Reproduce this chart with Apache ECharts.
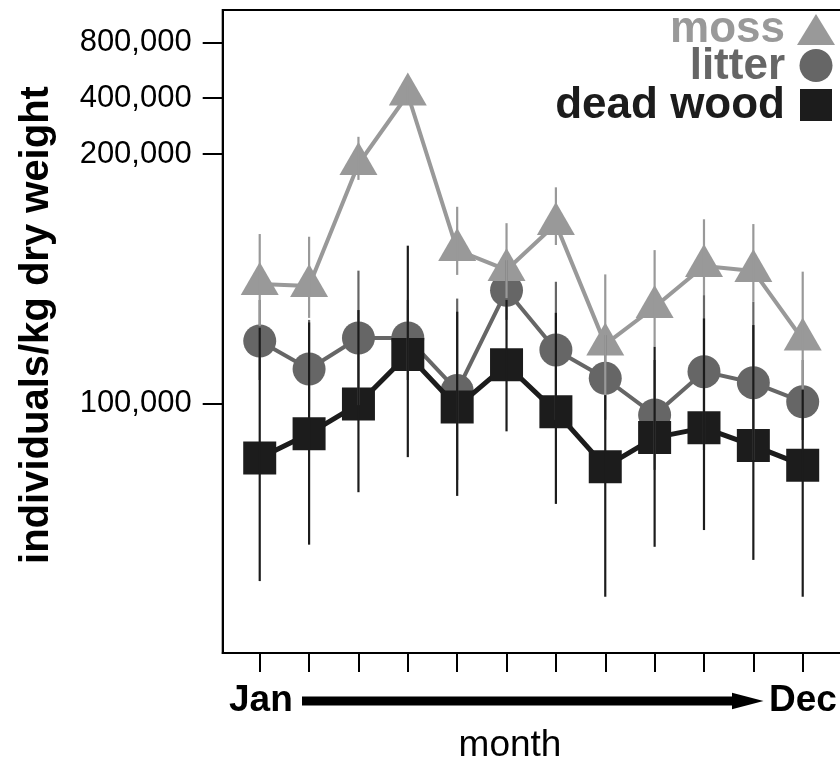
<!DOCTYPE html>
<html>
<head>
<meta charset="utf-8">
<script src="https://cdn.jsdelivr.net/npm/echarts@6/dist/echarts.min.js"></script>
<style>
  html, body { margin: 0; padding: 0; background: #fff; }
  #chart { width: 840px; height: 763px; }
</style>
</head>
<body>
<div id="chart"></div>
<script>
const months = [1, 2, 3, 4, 5, 6, 7, 8, 9, 10, 11, 12];
const yTicks = [100000, 200000, 400000, 800000];

// individuals/kg dry weight
const moss = [139300, 138600, 194500, 418500, 153100, 144900, 164600, 117800, 130700, 146500, 144500, 119400];
const mossHi = [160100, 158900, 247600, 470000, 172700, 165000, 182300, 143100, 153100, 166800, 164600, 144200];
const mossLo = [124000, 126800, 186100, 372000, 142900, 134000, 155300, 102300, 117000, 135100, 132600, 104100];

const litter = [118900, 110000, 119900, 119900, 103600, 136900, 116000, 107200, 96800, 109200, 105900, 100400];
const litterHi = [133300, 126100, 144600, 133300, 133800, 148900, 140200, 120900, 112800, 135100, 132600, 112800];
const litterLo = [106700, 98100, 99500, 106700, 80800, 126100, 95500, 95500, 83100, 87800, 85400, 90300];

const deadWood = [85900, 91900, 99800, 114500, 99000, 111300, 97700, 83800, 90900, 93400, 88900, 84200];
const deadHi = [123400, 125200, 129600, 155000, 129000, 133300, 128600, 102300, 117000, 126600, 124300, 103800];
const deadLo = [61000, 67500, 78100, 86100, 77300, 92500, 75600, 58400, 67100, 70300, 64700, 58400];

// the original axis is log-like but compressed above 200,000
const LOW_STEP = 249.3;
const HIGH_STEP = 55.85;
function toAxis(v) {
  const d = Math.log2(v / 100000);
  return d <= 1 ? d * LOW_STEP : LOW_STEP + (d - 1) * HIGH_STEP;
}
function fromAxis(a) {
  return a <= LOW_STEP ? 100000 * Math.pow(2, a / LOW_STEP) : 200000 * Math.pow(2, (a - LOW_STEP) / HIGH_STEP);
}

const MOSS = "#999999";
const LITTER = "#666666";
const DEAD = "#1c1c1c";
const FONT = "Liberation Sans";

function points(vals) {
  return vals.map((v, i) => [months[i], toAxis(v)]);
}
function bars(lo, hi) {
  return lo.map((v, i) => [months[i], toAxis(v), toAxis(hi[i])]);
}

function errorBars(name, lo, hi, color, z) {
  return {
    name: name + " error",
    type: "custom",
    z: z,
    silent: true,
    data: bars(lo, hi),
    encode: { x: 0, y: [1, 2] },
    renderItem: (params, api) => {
      const a = api.coord([api.value(0), api.value(1)]);
      const b = api.coord([api.value(0), api.value(2)]);
      return {
        type: "line",
        shape: { x1: a[0], y1: a[1], x2: b[0], y2: b[1] },
        style: { stroke: color, lineWidth: 2.2 },
      };
    },
  };
}

function lineSeries(name, vals, color, symbol, size, width, z, offset) {
  return {
    name: name,
    type: "line",
    z: z,
    data: points(vals),
    symbol: symbol,
    symbolSize: size,
    symbolOffset: offset || [0, 0],
    showAllSymbol: true,
    lineStyle: { color: color, width: width },
    itemStyle: { color: color, borderWidth: 0, opacity: 1 },
    emphasis: { disabled: true },
  };
}

function legendRow(label, color, y) {
  return {
    type: "text",
    x: 785,
    y: y,
    style: {
      text: label,
      fill: color,
      font: "bold 44px '" + FONT + "'",
      align: "right",
      verticalAlign: "middle",
    },
  };
}

const chart = echarts.init(document.getElementById("chart"), null, { renderer: "canvas" });

const option = {
  animation: false,
  backgroundColor: "#fff",
  grid: {
    left: 222.7,
    top: 10,
    right: -2.2,
    bottom: 110,
    show: true,
    borderColor: "#000",
    borderWidth: 2,
    backgroundColor: "transparent",
    outerBoundsMode: "none",
    containLabel: false,
  },
  xAxis: {
    type: "value",
    min: 0.25,
    max: 12.8,
    axisLine: { show: true, onZero: false, lineStyle: { color: "#000", width: 2 } },
    axisTick: {
      show: true,
      inside: false,
      length: 19,
      customValues: months,
      lineStyle: { color: "#000", width: 2 },
    },
    axisLabel: { show: false },
    splitLine: { show: false },
  },
  yAxis: {
    type: "value",
    min: toAxis(100000) - 249.7,
    max: toAxis(100000) + 393.3,
    axisLine: { show: true, onZero: false, lineStyle: { color: "#000", width: 2 } },
    axisTick: {
      show: true,
      inside: false,
      length: 20,
      customValues: yTicks.map(toAxis),
      lineStyle: { color: "#000", width: 2 },
    },
    axisLabel: {
      show: true,
      margin: 31,
      customValues: yTicks.map(toAxis),
      color: "#000",
      fontFamily: FONT,
      fontSize: 31,
      formatter: (val) => (Math.round(fromAxis(val) / 1000) * 1000).toLocaleString("en-US"),
    },
    splitLine: { show: false },
  },
  series: [
    lineSeries("litter", litter, LITTER, "circle", 33, 4, 2),
    lineSeries("moss", moss, MOSS, "triangle", [38, 33], 4, 3, [0, -5.5]),
    lineSeries("dead wood", deadWood, DEAD, "rect", 33, 5, 4),
    errorBars("litter", litterLo, litterHi, LITTER, 10),
    errorBars("moss", mossLo, mossHi, MOSS, 11),
    errorBars("dead wood", deadLo, deadHi, DEAD, 12),
  ],
  graphic: [
    legendRow("moss", MOSS, 29.5),
    legendRow("litter", LITTER, 67),
    legendRow("dead wood", DEAD, 105.5),
    {
      type: "polygon",
      shape: { points: [[816, 14], [835, 45], [797, 45]] },
      style: { fill: MOSS },
    },
    { type: "circle", shape: { cx: 816, cy: 65.5, r: 16.5 }, style: { fill: LITTER } },
    { type: "rect", shape: { x: 800, y: 89, width: 32, height: 32 }, style: { fill: DEAD } },
    {
      type: "text",
      x: 37,
      y: 325,
      rotation: Math.PI / 2,
      style: {
        text: "individuals/kg dry weight",
        fill: "#000",
        font: "bold 40px '" + FONT + "'",
        align: "center",
        verticalAlign: "middle",
      },
    },
    {
      type: "text",
      x: 229,
      y: 701,
      style: { text: "Jan", fill: "#000", font: "bold 37px '" + FONT + "'", align: "left", verticalAlign: "middle" },
    },
    {
      type: "text",
      x: 769,
      y: 701,
      style: { text: "Dec", fill: "#000", font: "bold 37px '" + FONT + "'", align: "left", verticalAlign: "middle" },
    },
    { type: "rect", shape: { x: 302, y: 696.5, width: 432, height: 9 }, style: { fill: "#000" } },
    {
      type: "polygon",
      shape: { points: [[732, 692.7], [763.5, 701], [732, 709.3]] },
      style: { fill: "#000" },
    },
    {
      type: "text",
      x: 510,
      y: 746,
      style: { text: "month", fill: "#000", font: "37px '" + FONT + "'", align: "center", verticalAlign: "middle" },
    },
  ],
};

chart.setOption(option);
</script>
</body>
</html>
